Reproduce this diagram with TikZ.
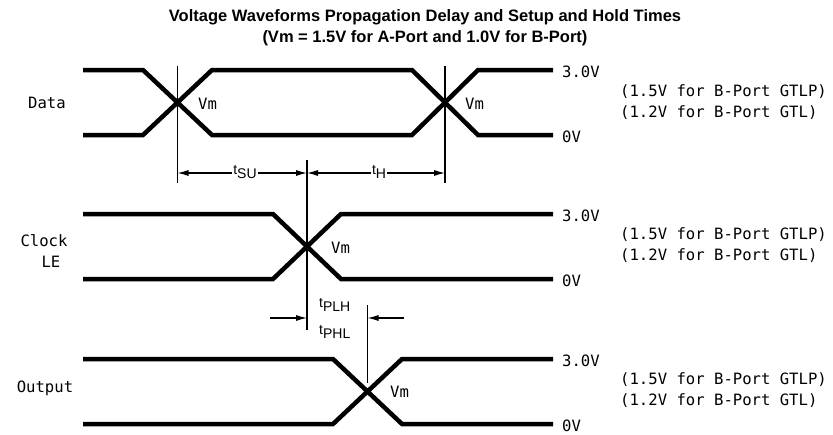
\documentclass[tikz,border=0pt]{standalone}
\usepackage{fontspec}
\setmainfont{Liberation Sans}
\newfontfamily\plotfont{DejaVu Sans Mono}
\usetikzlibrary{arrows.meta}
\begin{document}
\begin{tikzpicture}[x=1pt,y=-1pt,
  wave/.style={line width=4.5pt},
  guide/.style={line width=1.1pt},
  dim/.style={line width=1.1pt,-{Latex[length=11pt,width=6pt]}},
  lbl/.style={font=\plotfont\fontsize{15.6}{15.6}\selectfont, inner sep=0pt},
  tlbl/.style={font=\fontsize{14}{14}\selectfont, inner sep=1pt},
  title/.style={font=\bfseries\fontsize{16.5}{16.5}\selectfont, inner sep=0pt}]
\useasboundingbox (0,0) rectangle (833,434);
\fill[white] (0,0) rectangle (833,434);

% title
\node[title] (t1) at (425,17) {Voltage Waveforms Propagation Delay and Setup and Hold Times};
\node[title] (t2) at (425,38) {(Vm = 1.5V for A-Port and 1.0V for B-Port)};

% ---------- Data ----------
\coordinate (dx1) at (177.5,102.5);
\coordinate (dx2) at (445,102.5);
\draw[wave] (83,70) -- (143,70) -- (212,135) -- (412,135) -- (478,70) -- (553,70);
\draw[wave] (83,135) -- (143,135) -- (212,70) -- (412,70) -- (478,135) -- (553,135);
\coordinate (g1t) at (177.5,66);
\coordinate (g1b) at (177.5,183);
\coordinate (g2t) at (445,66);
\coordinate (g2b) at (445,183);
\draw[guide] (g1t) -- (g1b);
\draw[guide] (g2t) -- (g2b);
\node[lbl] (ldata) at (47,103) {Data};
\node[lbl,anchor=west] (vm1) at (198,104) {Vm};
\node[lbl,anchor=west] (vm2) at (465,104) {Vm};
\node[lbl,anchor=west] (d3v) at (562,72) {3.0V};
\node[lbl,anchor=west] (d0v) at (562,137) {0V};
\node[lbl,anchor=west] (dgtlp) at (620,92) {(1.5V for B-Port GTLP)};
\node[lbl,anchor=west] (dgtl) at (620,113) {(1.2V for B-Port GTL)};

% ---------- Clock ----------
\coordinate (cx) at (307,246.5);
\draw[wave] (83,214) -- (273,214) -- (341,279) -- (553,279);
\draw[wave] (83,279) -- (273,279) -- (341,214) -- (553,214);
\coordinate (g3t) at (307,160);
\coordinate (g3b) at (307,330);
\draw[guide] (g3t) -- (g3b);
\node[lbl] (lclk) at (44,241) {Clock};
\node[lbl] (lle) at (51,262) {LE};
\node[lbl,anchor=west] (vm3) at (331,248) {Vm};
\node[lbl,anchor=west] (c3v) at (562,216) {3.0V};
\node[lbl,anchor=west] (c0v) at (562,281) {0V};
\node[lbl,anchor=west] (cgtlp) at (620,235) {(1.5V for B-Port GTLP)};
\node[lbl,anchor=west] (cgtl) at (620,256) {(1.2V for B-Port GTL)};

% setup / hold
\node[tlbl] (tsu) at (245,172) {t\raisebox{-4pt}{SU}};
\node[tlbl] (th) at (379,172) {t\raisebox{-4pt}{H}};
\coordinate (a1) at (177.5,173);
\coordinate (a2) at (307,173);
\coordinate (a3) at (445,173);
\draw[dim] (tsu.west |- a1) -- (a1);
\draw[dim] (tsu.east |- a1) -- (a2);
\draw[dim] (th.west |- a1) -- (a2);
\draw[dim] (th.east |- a1) -- (a3);

% ---------- Output ----------
\coordinate (ox) at (367.5,391);
\draw[wave] (83,359) -- (333,359) -- (402,424) -- (553,424);
\draw[wave] (83,424) -- (333,424) -- (402,359) -- (553,359);
\coordinate (g4t) at (367.5,305);
\coordinate (g4b) at (367.5,383);
\draw[guide] (g4t) -- (g4b);
\node[lbl] (lout) at (45,388) {Output};
\node[lbl,anchor=west] (vm4) at (390,392) {Vm};
\node[lbl,anchor=west] (o3v) at (562,361) {3.0V};
\node[lbl,anchor=west] (o0v) at (562,426) {0V};
\node[lbl,anchor=west] (ogtlp) at (620,380) {(1.5V for B-Port GTLP)};
\node[lbl,anchor=west] (ogtl) at (620,401) {(1.2V for B-Port GTL)};

% propagation delay
\node[tlbl,anchor=west] (tplh) at (318,305) {t\raisebox{-4pt}{PLH}};
\node[tlbl,anchor=west] (tphl) at (318,332) {t\raisebox{-4pt}{PHL}};
\coordinate (p1s) at (270,318);
\coordinate (p2s) at (404,318);
\draw[dim] (p1s) -- (g3t |- p1s);
\draw[dim] (p2s) -- (g4t |- p2s);
\end{tikzpicture}
\end{document}
